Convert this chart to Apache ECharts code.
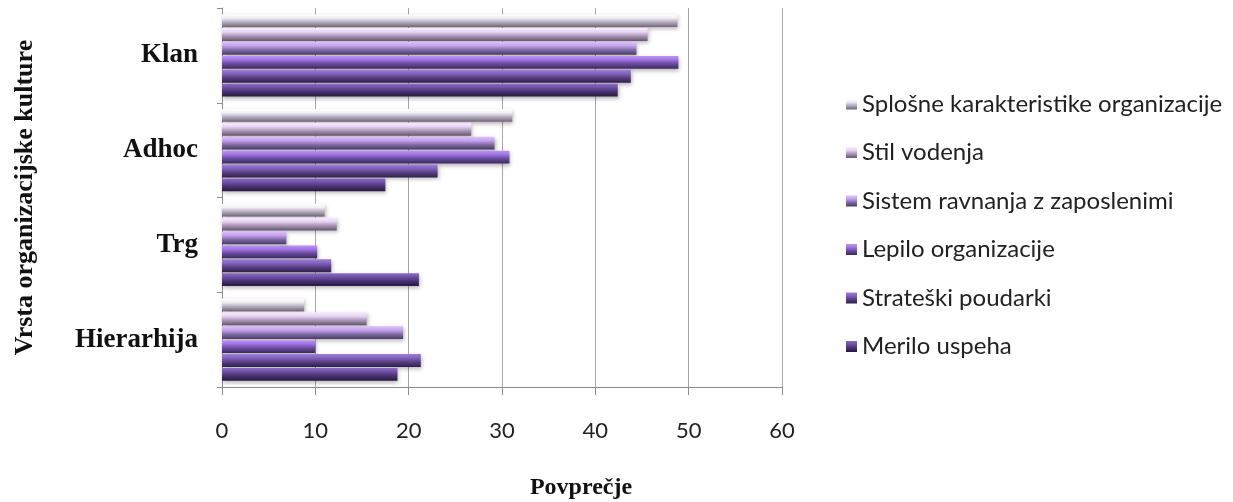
<!DOCTYPE html>
<html>
<head>
<meta charset="utf-8">
<script src="https://cdn.jsdelivr.net/npm/echarts@6/dist/echarts.min.js"></script>
<style>
  html, body { margin: 0; padding: 0; background: #ffffff; }
  #chart { width: 1233px; height: 502px; }
</style>
</head>
<body>
<div id="chart"></div>
<script>
// Culture types, listed bottom to top along the category axis
const categories = ['Hierarhija', 'Trg', 'Adhoc', 'Klan'];

// Average score per dimension, same order as categories
const splosne   = [8.8, 11.0, 31.1, 48.8];
const stil      = [15.5, 12.3, 26.7, 45.6];
const sistem    = [19.4, 6.9, 29.2, 44.4];
const lepilo    = [10.0, 10.2, 30.8, 48.9];
const strateski = [21.3, 11.7, 23.1, 43.8];
const merilo    = [18.8, 21.1, 17.5, 42.4];

const seriesNames = [
  'Splošne karakteristike organizacije',
  'Stil vodenja',
  'Sistem ravnanja z zaposlenimi',
  'Lepilo organizacije',
  'Strateški poudarki',
  'Merilo uspeha'
];
const seriesValues = [splosne, stil, sistem, lepilo, strateski, merilo];

const xTicks = [0, 10, 20, 30, 40, 50, 60];

// Cylinder-like shading for each series: top highlight down to dark base
const shades = [
  ['#ffffff', '#f1eef5', '#b6aebf', '#6e6677'],
  ['#f8ecfe', '#e8d4f5', '#a896b3', '#665671'],
  ['#dcc0fb', '#c6a2f0', '#7f6ca2', '#4a3a66'],
  ['#bc96f3', '#a073e2', '#694a9e', '#3b2a5a'],
  ['#9e7dd6', '#8262bd', '#573f82', '#2f1f4a'],
  ['#8e6cc4', '#6d4fa3', '#483272', '#27183d']
];

function grad(s) {
  return new echarts.graphic.LinearGradient(0, 0, 0, 1, [
    { offset: 0, color: s[0] },
    { offset: 0.3, color: s[1] },
    { offset: 0.62, color: s[2] },
    { offset: 1, color: s[3] }
  ]);
}

const serif = '"Liberation Serif", "DejaVu Serif", serif';
const sans = 'Lato, "Open Sans", sans-serif';

const chart = echarts.init(document.getElementById('chart'), null, { renderer: 'canvas' });

chart.setOption({
  backgroundColor: '#ffffff',
  animation: false,
  grid: { left: 222, right: 451, top: 8, bottom: 115, containLabel: false },
  legend: {
    orient: 'vertical',
    left: 841,
    top: 85,
    itemWidth: 11,
    itemHeight: 11,
    itemGap: 20.5,
    icon: 'rect',
    data: seriesNames,
    textStyle: { fontFamily: sans, fontSize: 24, color: '#222222', lineHeight: 28 }
  },
  xAxis: {
    type: 'value',
    min: 0,
    max: 60,
    interval: 10,
    axisLine: { show: true, lineStyle: { color: '#8c8c8c', width: 1 } },
    axisTick: { show: true, length: 8, lineStyle: { color: '#8c8c8c' } },
    splitLine: { show: true, lineStyle: { color: '#a6a6a6', width: 1 } },
    axisLabel: {
      fontFamily: sans, fontSize: 22, color: '#222222', margin: 33,
      formatter: v => xTicks.includes(v) ? String(v) : ''
    }
  },
  yAxis: {
    type: 'category',
    data: categories,
    name: 'Vrsta organizacijske kulture',
    nameLocation: 'middle',
    nameRotate: 90,
    nameGap: 184,
    nameTextStyle: { fontFamily: serif, fontSize: 26, fontWeight: 'bold', color: '#111111' },
    axisLine: { show: true, lineStyle: { color: '#8c8c8c', width: 1 } },
    axisTick: { show: true, length: 5, lineStyle: { color: '#8c8c8c' } },
    axisLabel: {
      fontFamily: serif, fontSize: 27, fontWeight: 'bold', color: '#111111', margin: 24
    }
  },
  graphic: [
    {
      type: 'text',
      x: 581, y: 488,
      style: {
        text: 'Povprečje',
        font: 'bold 24px ' + serif,
        fill: '#111111',
        align: 'center',
        verticalAlign: 'middle'
      }
    }
  ],
  series: seriesNames.map((name, i) => ({
    name: name,
    type: 'bar',
    data: seriesValues[i],
    barCategoryGap: '13%',
    barGap: '8%',
    itemStyle: {
      color: grad(shades[i]),
      shadowColor: 'rgba(0,0,0,0.28)',
      shadowBlur: 4,
      shadowOffsetX: 1,
      shadowOffsetY: 2
    }
  }))
});
</script>
</body>
</html>
